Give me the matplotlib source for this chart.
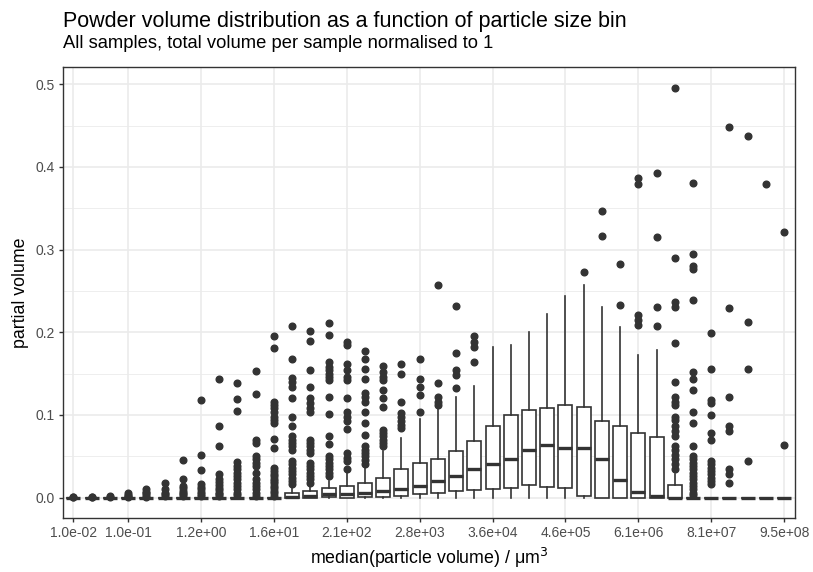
import matplotlib
matplotlib.use("Agg")
import matplotlib.pyplot as plt
import numpy as np

plt.rcParams['font.family'] = ['Liberation Sans', 'DejaVu Sans']

# bins (one box per bin) and the labels shown on the axis
n_bins = 40
tick_pos = [0, 3, 7, 11, 15, 19, 23, 27, 31, 35, 39]
tick_labels = ['1.0e-02', '1.0e-01', '1.2e+00', '1.6e+01', '2.1e+02', '2.8e+03',
               '3.6e+04', '4.6e+05', '6.1e+06', '8.1e+07', '9.5e+08']

# box statistics (partial volume)
q1 = [0]*12 + [0, 0, 0.001, 0.0, 0.001, 0.001, 0.002, 0.004, 0.006, 0.008, 0.009,
               0.010, 0.012, 0.015, 0.013, 0.012, 0.002, 0.0, 0.0, 0.0, 0.0, 0.0] + [0]*6
med = [0]*12 + [0.001, 0.002, 0.004, 0.004, 0.005, 0.008, 0.010, 0.014, 0.020, 0.026, 0.035,
                0.040, 0.047, 0.057, 0.063, 0.060, 0.060, 0.047, 0.021, 0.007, 0.002, 0.0] + [0]*6
q3 = [0]*12 + [0.006, 0.0075, 0.011, 0.014, 0.017, 0.024, 0.034, 0.042, 0.047, 0.056, 0.068,
               0.086, 0.100, 0.106, 0.108, 0.112, 0.110, 0.093, 0.086, 0.078, 0.073, 0.015] + [0]*6
wlo = [0]*n_bins
whi = [0]*12 + [0.013, 0.016, 0.020, 0.031, 0.036, 0.056, 0.072, 0.095, 0.108, 0.122, 0.135,
                0.182, 0.184, 0.200, 0.222, 0.244, 0.257, 0.231, 0.206, 0.172, 0.179, 0.028] + [0]*6

outliers = [
    [0.0005, 0.001],
    [0.0005, 0.001],
    [0.001, 0.002],
    [0.001, 0.002, 0.003, 0.005],
    [0.001, 0.003, 0.005, 0.007, 0.010],
    [0.002, 0.004, 0.006, 0.010, 0.017],
    [0.002, 0.004, 0.006, 0.008, 0.011, 0.014, 0.022, 0.045],
    [0.002, 0.004, 0.007, 0.010, 0.013, 0.016, 0.033, 0.052, 0.118],
    [0.002, 0.004, 0.006, 0.009, 0.012, 0.015, 0.019, 0.023, 0.028, 0.062, 0.087, 0.143],
    [0.003, 0.006, 0.010, 0.014, 0.018, 0.022, 0.026, 0.030, 0.034, 0.038, 0.043,
     0.105, 0.119, 0.138],
    [0.002, 0.006, 0.010, 0.014, 0.018, 0.022, 0.030, 0.038, 0.042, 0.046, 0.050,
     0.066, 0.070, 0.125, 0.153],
    [0.002, 0.005, 0.008, 0.011, 0.014, 0.017, 0.020, 0.023, 0.026, 0.029, 0.032, 0.036,
     0.060, 0.071, 0.090, 0.094, 0.098, 0.103, 0.108, 0.112, 0.116, 0.181, 0.195],
    [0.016, 0.020, 0.024, 0.028, 0.032, 0.036, 0.040, 0.044, 0.058, 0.062, 0.066, 0.070,
     0.074, 0.087, 0.098, 0.121, 0.134, 0.140, 0.145, 0.168, 0.207],
    [0.018, 0.022, 0.026, 0.030, 0.034, 0.038, 0.042, 0.054, 0.058, 0.062, 0.066, 0.070,
     0.104, 0.108, 0.114, 0.120, 0.134, 0.154, 0.189, 0.202],
    [0.026, 0.030, 0.034, 0.038, 0.042, 0.046, 0.050, 0.065, 0.075, 0.101, 0.122,
     0.142, 0.146, 0.150, 0.154, 0.158, 0.164, 0.197, 0.211],
    [0.035, 0.044, 0.048, 0.054, 0.083, 0.092, 0.098, 0.104, 0.120, 0.142, 0.146,
     0.154, 0.162, 0.185, 0.188],
    [0.040, 0.045, 0.050, 0.054, 0.058, 0.062, 0.076, 0.090, 0.103, 0.115, 0.122,
     0.126, 0.143, 0.156, 0.168, 0.177],
    [0.062, 0.066, 0.070, 0.074, 0.078, 0.082, 0.110, 0.120, 0.130, 0.142, 0.146,
     0.152, 0.159],
    [0.084, 0.088, 0.092, 0.097, 0.102, 0.115, 0.150, 0.162],
    [0.103, 0.124, 0.134, 0.143, 0.168],
    [0.112, 0.116, 0.122, 0.138, 0.257],
    [0.132, 0.148, 0.154, 0.175, 0.232],
    [0.164, 0.182, 0.188, 0.195],
    [], [], [], [], [],
    [0.273],
    [0.317, 0.347],
    [0.233, 0.282],
    [0.209, 0.215, 0.221, 0.380, 0.387],
    [0.208, 0.231, 0.315, 0.393],
    [0.034, 0.040, 0.046, 0.052, 0.058, 0.062, 0.074, 0.080, 0.086, 0.094, 0.098,
     0.112, 0.116, 0.122, 0.140, 0.187, 0.230, 0.236, 0.290, 0.495],
    [0.003, 0.006, 0.010, 0.014, 0.018, 0.022, 0.026, 0.030, 0.034, 0.038, 0.042,
     0.046, 0.050, 0.062, 0.090, 0.104, 0.130, 0.144, 0.152, 0.239, 0.276, 0.280,
     0.295, 0.381],
    [0.016, 0.020, 0.024, 0.028, 0.032, 0.036, 0.040, 0.044, 0.070, 0.078, 0.100,
     0.114, 0.118, 0.156, 0.199],
    [0.018, 0.028, 0.034, 0.080, 0.086, 0.122, 0.229, 0.448],
    [0.044, 0.156, 0.212, 0.437],
    [0.379],
    [0.063, 0.321],
]

dark = '#333333'

stats = []
for i in range(n_bins):
    stats.append({'q1': q1[i], 'med': med[i], 'q3': q3[i],
                  'whislo': wlo[i], 'whishi': whi[i], 'fliers': outliers[i]})

fig = plt.figure(figsize=(8.13, 5.72), dpi=100)
ax = fig.add_axes([62.5 / 813, 1 - 518 / 572, (795 - 62.5) / 813, (518 - 67) / 572])

ax.bxp(stats, positions=range(n_bins), widths=0.77, showcaps=False,
       patch_artist=True, manage_ticks=False,
       boxprops=dict(facecolor='white', edgecolor=dark, linewidth=1.2),
       medianprops=dict(color=dark, linewidth=2.4, solid_capstyle='butt'),
       whiskerprops=dict(color=dark, linewidth=1.2),
       flierprops=dict(marker='o', markerfacecolor=dark, markeredgecolor=dark,
                       markersize=4.8, linestyle='none'))

ax.set_xlim(-0.6, 39.6)
ax.set_ylim(-0.0248, 0.521)
ax.set_xticks(tick_pos)
ax.set_xticklabels(tick_labels)
ax.set_yticks([0, 0.1, 0.2, 0.3, 0.4, 0.5])
ax.set_yticklabels(['0.0', '0.1', '0.2', '0.3', '0.4', '0.5'])
ax.set_yticks(np.arange(0.05, 0.5, 0.1), minor=True)

# theme_bw look
ax.grid(True, which='major', color='#EBEBEB', linewidth=1.2)
ax.grid(True, which='minor', axis='y', color='#EBEBEB', linewidth=0.6)
ax.set_axisbelow(True)
for s in ax.spines.values():
    s.set_color(dark)
    s.set_linewidth(1.0)
ax.tick_params(axis='both', which='major', length=3.2, width=1.0, color=dark,
               labelsize=10, labelcolor='#4D4D4D', pad=2.5)
ax.tick_params(axis='y', which='minor', length=0)

ax.set_xlabel('median(particle volume) / μm$^3$', fontsize=12.8, va='center')
ax.xaxis.set_label_coords(0.5, -(558 - 518) / 451)
ax.set_ylabel('partial volume', fontsize=12.8, va='center')
ax.yaxis.set_label_coords(-(62.5 - 21) / 732.5, 0.5)

fig.text(62.5 / 813, 1 - 27.5 / 572, 'Powder volume distribution as a function of particle size bin',
         fontsize=15.5, va='baseline', ha='left')
fig.text(62.5 / 813, 1 - 48.5 / 572, 'All samples, total volume per sample normalised to 1',
         fontsize=13.2, va='baseline', ha='left')

fig.savefig('out.png', dpi=100)
